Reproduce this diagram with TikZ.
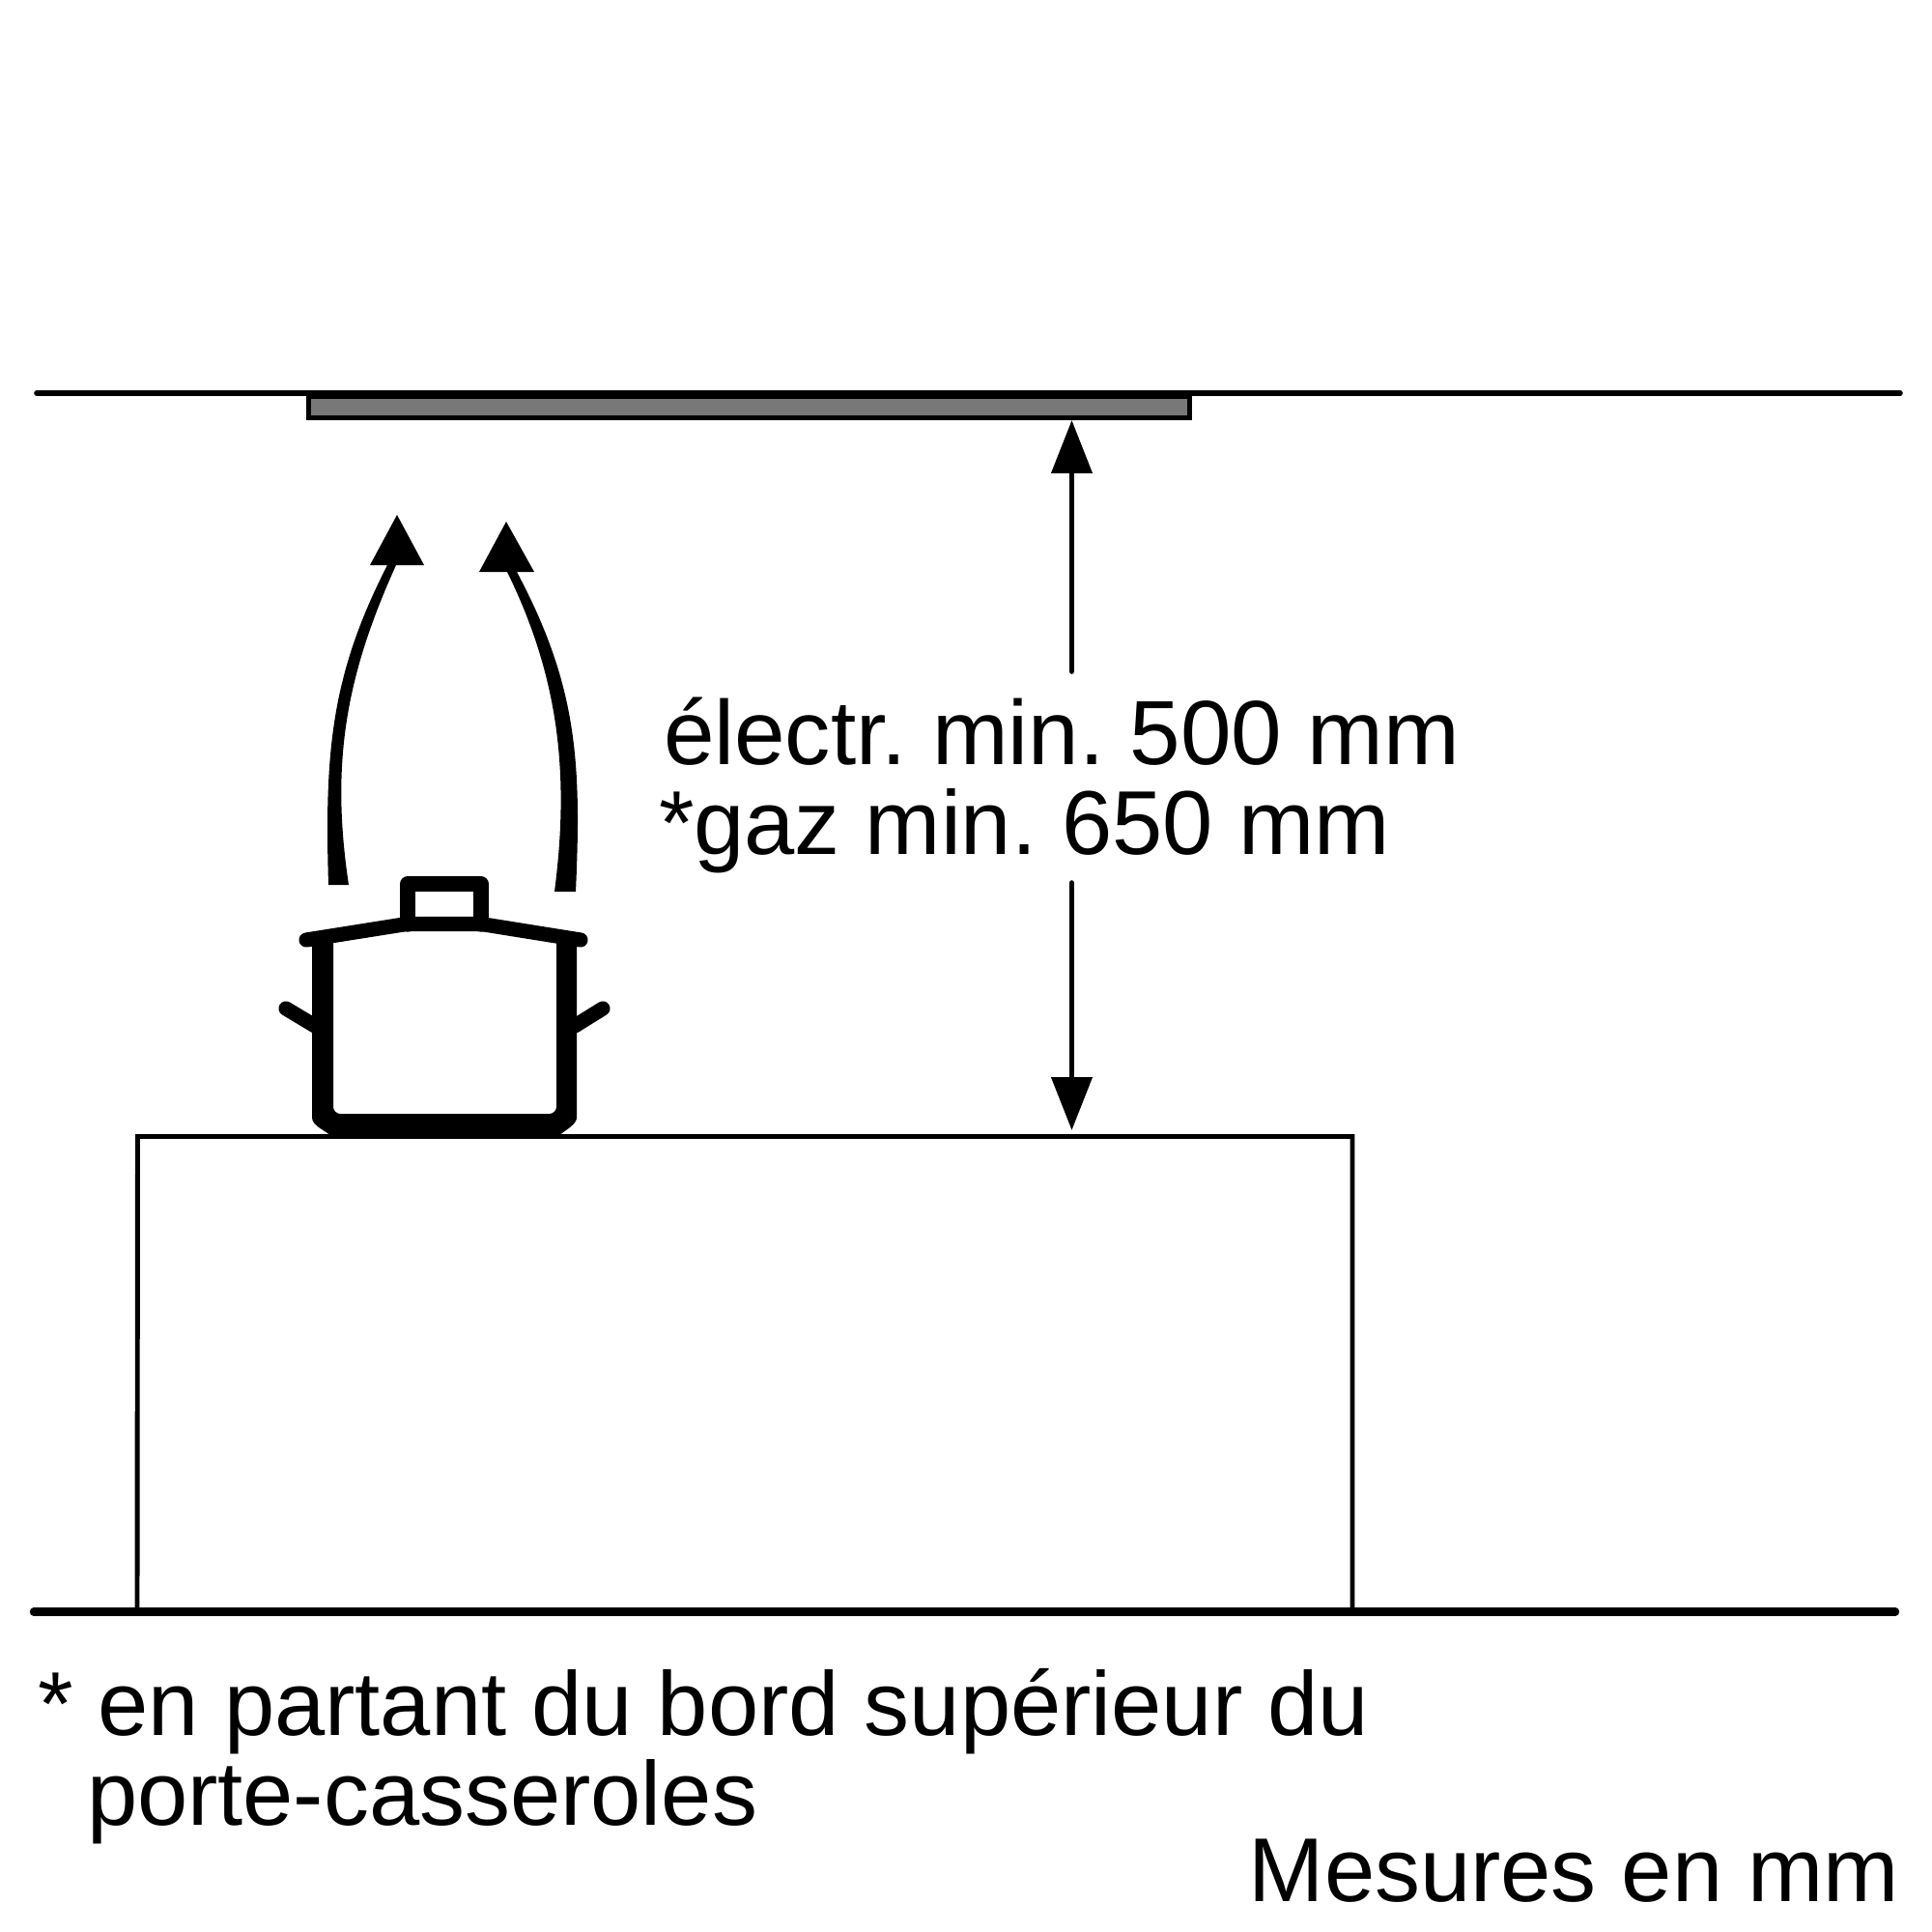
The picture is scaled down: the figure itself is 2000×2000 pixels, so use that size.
\documentclass[tikz,border=0pt]{standalone}
\usepackage{fontspec}
\setmainfont{Liberation Sans}
\usetikzlibrary{arrows.meta}
\tikzset{
  lbl/.style={inner sep=0pt,outer sep=0pt,anchor=base west,font=\fontsize{26.7pt}{26.7pt}\selectfont},
  thinline/.style={line width=1.6pt,black,line cap=round},
  dimline/.style={line width=1.6pt,black,line cap=round,-{Triangle[length=15.6pt,width=11.8pt]}},
  potline/.style={line width=4.3pt,black,line cap=round,line join=round},
  solid black/.style={fill=black,draw=none}
}
\frenchspacing
\begin{document}
\begin{tikzpicture}[x=0.01cm,y=-0.01cm]
\useasboundingbox (0,0) rectangle (2000,2000);
% ceiling and hood
\draw[thinline] (38,407) -- (1967,407);
\path[fill=black] (317,404) rectangle (1234,435);
\path[fill=black!53] (322,413) rectangle (1229,429.5);
% worktop and floor
\coordinate (boxTL) at (142.5,1176.5);
\coordinate (boxTR) at (1400,1176.5);
\draw[line width=1.4pt,line join=miter] (142,1667) -- (boxTL) -- (boxTR) -- (1400,1667);
\draw[line width=2.4pt,line cap=round] (35,1668.5) -- (1962,1668.5);
% dimension arrows
\coordinate (dimA) at (1109.5,695);
\coordinate (dimB) at (1109.5,435);
\coordinate (dimC) at (1109.5,914);
\coordinate (dimD) at (1109.5,1170);
\draw[dimline] (dimA) -- (dimB);
\draw[dimline] (dimC) -- (dimD);
% pot
\path[solid black] (323,973) -- (345,973) -- (345,1146) .. controls (345,1150) and (349,1153) .. (352,1153)
  -- (569,1153) .. controls (572,1153) and (576,1150) .. (576,1146) -- (576,973) -- (597,973)
  -- (597,1157) .. controls (597,1164) and (585,1170) .. (578,1176) -- (343,1176)
  .. controls (336,1170) and (323,1165) .. (323,1157) -- cycle;
\draw[potline] (317,973) -- (421,956.5) -- (498,956.5) -- (601,973);
\draw[potline,line width=4.4pt] (422,957) -- (422,915) -- (498,915) -- (498,957);
\draw[potline] (296,1044) -- (326,1062);
\draw[potline] (624,1044) -- (595,1062);
% steam arrows
\path[solid black] (340,916) .. controls (336,780) and (342,700) .. (401,585)
  -- (383,585) -- (411,533) -- (439,585) -- (410,585)
  .. controls (358,700) and (342,790) .. (361,916) -- cycle;
\path[solid black] (596,923) .. controls (602,790) and (598,710) .. (535,592)
  -- (553,592) -- (524,540) -- (496,592) -- (525,592)
  .. controls (578,700) and (590,800) .. (574,923) -- cycle;
% texts
\node[lbl] (t1) at (687,791) {\fontsize{26.85pt}{26.85pt}\selectfont électr. min. 500 mm};
\node[lbl] (t2) at (682,884) {*gaz min. 650 mm};
\node[lbl] (t3) at (39,1796) {* en partant du bord supérieur du};
\node[lbl] (t4) at (90,1889) {porte-casseroles};
\node[lbl,anchor=base east] (t5) at (1966,1968) {Mesures en mm};
\end{tikzpicture}
\end{document}
